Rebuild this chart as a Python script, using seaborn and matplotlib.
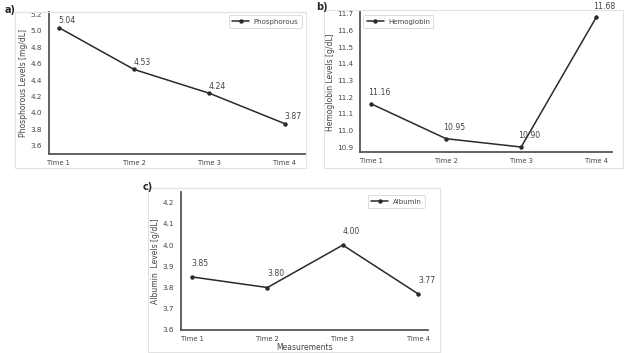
import matplotlib
matplotlib.use("Agg")
import matplotlib.pyplot as plt
import seaborn as sns
import pandas as pd
from matplotlib.patches import Rectangle

sns.set_style("white")
plt.rcParams['font.family'] = ['DejaVu Sans']

times = ["Time 1", "Time 2", "Time 3", "Time 4"]
phosphorous = [5.04, 4.53, 4.24, 3.87]
hemoglobin = [11.16, 10.95, 10.90, 11.68]
albumin = [3.85, 3.80, 4.00, 3.77]

phos_ticks = [3.6, 3.8, 4.0, 4.2, 4.4, 4.6, 4.8, 5.0, 5.2]
hemo_ticks = [10.9, 11.0, 11.1, 11.2, 11.3, 11.4, 11.5, 11.6, 11.7]
alb_ticks = [3.6, 3.7, 3.8, 3.9, 4.0, 4.1, 4.2]

W, H = 624, 353
fig = plt.figure(figsize=(W / 100, H / 100), dpi=100)


def ax_px(left, top, right, bottom):
    return fig.add_axes([left / W, 1 - bottom / H, (right - left) / W, (bottom - top) / H])


def border(left, top, right, bottom):
    fig.patches.append(Rectangle((left / W, 1 - bottom / H), (right - left) / W, (bottom - top) / H,
                                 transform=fig.transFigure, fill=False, edgecolor="#e2e2e2",
                                 linewidth=0.8))


border(15, 12, 306, 168)
border(324, 10, 623, 168)
border(148, 188, 440, 352)

spine_col = "#555555"
text_col = "#444444"


def panel(ax, values, label, ylabel, ticks, ylim, xlim, legend_loc, dy, fmt):
    df = pd.DataFrame({"Time": times, "val": values})
    sns.lineplot(data=df, x="Time", y="val", marker="o", color="#2a2a2a", linewidth=1.1,
                 markersize=3.2, markeredgewidth=0, label=label, ax=ax, sort=False)
    for i, v in enumerate(values):
        ax.annotate(fmt.format(v), (i, v), xytext=(6, dy), textcoords="offset points",
                    ha="center", va="center", fontsize=5.6, color=text_col)
    ax.set_ylim(*ylim)
    ax.set_xlim(*xlim)
    ax.set_yticks(ticks)
    ax.set_yticklabels([f"{t:.1f}" for t in ticks])
    ax.tick_params(axis="both", colors=text_col, length=0)
    ax.tick_params(axis="y", pad=5, labelsize=5.2)
    ax.tick_params(axis="x", pad=4, labelsize=4.9)
    ax.set_ylabel(ylabel, fontsize=5.5, color=text_col, labelpad=1.5)
    ax.set_xlabel("")
    for s in ["top", "right"]:
        ax.spines[s].set_visible(False)
    for s in ["left", "bottom"]:
        ax.spines[s].set_color(spine_col)
        ax.spines[s].set_linewidth(1.3)
    leg = ax.legend(loc=legend_loc, fontsize=5, frameon=True, handlelength=2.5,
                    handletextpad=0.6, borderpad=0.45, labelcolor=text_col)
    leg.get_frame().set_edgecolor("#cccccc")
    leg.get_frame().set_linewidth(0.6)
    return ax


ax_a = ax_px(49, 12, 305, 154)
panel(ax_a, phosphorous, "Phosphorous", "Phosphorous Levels [mg/dL]", phos_ticks,
      (3.5, 5.23), (-0.13, 3.27), "upper right", 5, "{:.2f}")

ax_b = ax_px(360, 12, 612, 152)
panel(ax_b, hemoglobin, "Hemoglobin", "Hemoglobin Levels [g/dL]", hemo_ticks,
      (10.87, 11.712), (-0.147, 3.21), "upper left", 8, "{:.2f}")

ax_c = ax_px(181, 192, 428, 330)
panel(ax_c, albumin, "Albumin", "Albumin  Levels [g/dL]", alb_ticks,
      (3.6, 4.25), (-0.146, 3.13), "upper right", 10, "{:.2f}")
ax_c.set_xlabel("Measurements", fontsize=5.5, color=text_col, labelpad=1)

fig.text(5 / W, 1 - 10 / H, "a)", fontsize=7, fontweight="bold", va="center", ha="left")
fig.text(316 / W, 1 - 7 / H, "b)", fontsize=7, fontweight="bold", va="center", ha="left")
fig.text(143 / W, 1 - 187 / H, "c)", fontsize=7, fontweight="bold", va="center", ha="left")

fig.savefig("out.png", dpi=100, facecolor="white")
